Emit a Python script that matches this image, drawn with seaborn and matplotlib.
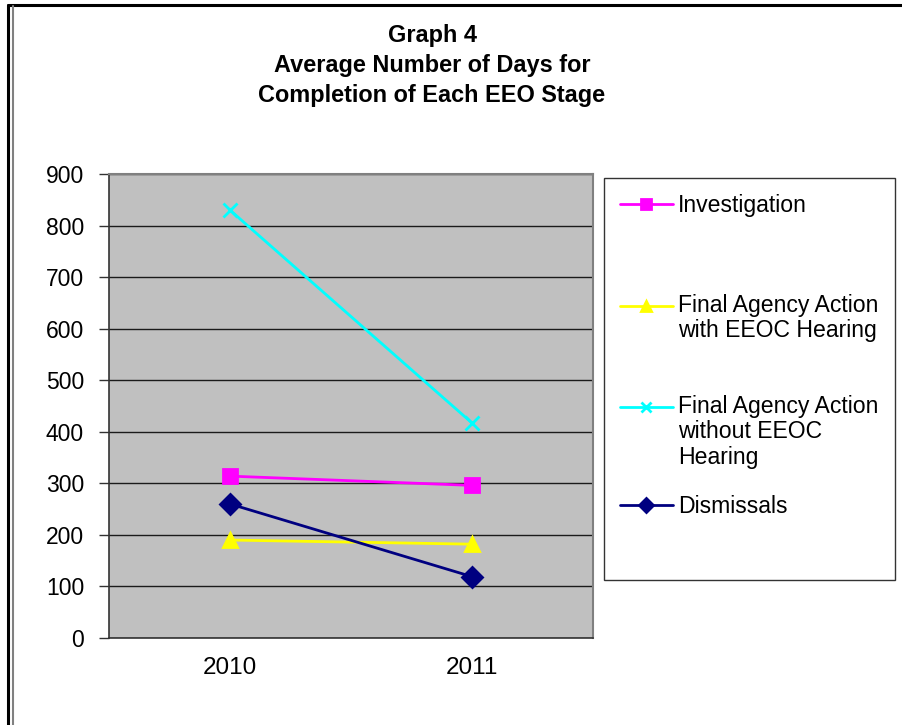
import pandas as pd
import numpy as np
import matplotlib
matplotlib.use('Agg')
import matplotlib.pyplot as plt
from matplotlib.lines import Line2D
from matplotlib.patches import Rectangle
import seaborn as sns

sns.set_style('white')
plt.rcParams['font.family'] = ['Liberation Sans', 'DejaVu Sans']
plt.rcParams['text.color'] = 'black'
plt.rcParams['xtick.color'] = 'black'
plt.rcParams['ytick.color'] = 'black'

# datos
years = ['2010', '2011']
stages = ['Investigation',
          'Final Agency Action\nwith EEOC Hearing',
          'Final Agency Action\nwithout EEOC\nHearing',
          'Dismissals']
investigation = [314, 296]
faa_with_hearing = [190, 182]
faa_without_hearing = [830, 417]
dismissals = [260, 119]

colores = ['#FF00FF', '#FFFF00', '#00FFFF', '#000080']
marcadores = ['s', '^', 'x', 'D']

df = pd.DataFrame({
    'year': years * 4,
    'stage': [s for s in stages for _ in years],
    'days': investigation + faa_with_hearing + faa_without_hearing + dismissals,
})

fig = plt.figure(figsize=(9.02, 7.25), dpi=100)
ax = fig.add_axes([109/902, 1 - 638/725, (593 - 109)/902, (638 - 174)/725])
ax.set_facecolor('#C0C0C0')

sns.pointplot(data=df, x='year', y='days', hue='stage', order=years,
              hue_order=stages, palette=dict(zip(stages, colores)),
              markers=marcadores, linestyles='-', errorbar=None, dodge=False,
              ax=ax, markersize=10, linewidth=2, markeredgewidth=2)
ax.get_legend().remove()

ax.set_ylim(0, 900)
ax.set_xlim(-0.5, 1.5)
ax.set_yticks(np.arange(0, 901, 100))
ax.yaxis.grid(True, color='#1a1a1a', linewidth=1.0)
ax.set_axisbelow(True)
ax.set_xlabel('')
ax.set_ylabel('')
ax.set_xticks([-0.5, 0.5, 1.5], minor=True)
ax.tick_params(axis='x', which='major', length=0, pad=14, labelsize=17.5)
ax.tick_params(axis='x', which='minor', length=7, width=1, color='#333333', direction='out')
ax.tick_params(axis='y', length=7, width=1, color='#333333', direction='out', pad=11, labelsize=16.5, left=True)
for lado in ['top', 'right']:
    ax.spines[lado].set_color('#808080')
    ax.spines[lado].set_linewidth(1.5)
for lado in ['left', 'bottom']:
    ax.spines[lado].set_color('#333333')
    ax.spines[lado].set_linewidth(1.2)

# titulo
fig.text(432/902, 1 - 24/725, 'Graph 4\nAverage Number of Days for\nCompletion of Each EEO Stage',
         ha='center', va='top', fontsize=16.9, fontweight='bold', linespacing=1.4)

# leyenda: una entrada por serie, el simbolo alineado con la primera linea
# (se agregan lineas vacias arriba para que la primera linea quede al centro)
filas_y = [205.5, 305.5, 406.5, 506.5]
for h, s, fy in zip(ax.lines[:4], stages, filas_y):
    n = s.count('\n') + 1
    leg = fig.legend([h], ['\n' * (n - 1) + s], loc='center left',
                     bbox_to_anchor=(608/902, 1 - fy/725), frameon=False,
                     fontsize=16.6, handlelength=2.3, handletextpad=0.22,
                     markerscale=0.75, borderpad=0)
    for t in leg.get_texts():
        t.set_linespacing(1.13)

fig.add_artist(Rectangle((604/902, 1 - 580/725), (895 - 604)/902, (580 - 178)/725,
                         transform=fig.transFigure, fill=False, edgecolor='#333333', linewidth=1))

# marco exterior
fig.add_artist(Line2D([8/902, 8/902], [0, 1 - 5/725], transform=fig.transFigure, color='black', linewidth=2.2))
fig.add_artist(Line2D([8/902, 1], [1 - 5/725, 1 - 5/725], transform=fig.transFigure, color='black', linewidth=2.2))
fig.add_artist(Line2D([12.5/902, 12.5/902], [0, 1 - 6/725], transform=fig.transFigure, color='#808080', linewidth=1.5))

fig.savefig('out.png', dpi=100)
